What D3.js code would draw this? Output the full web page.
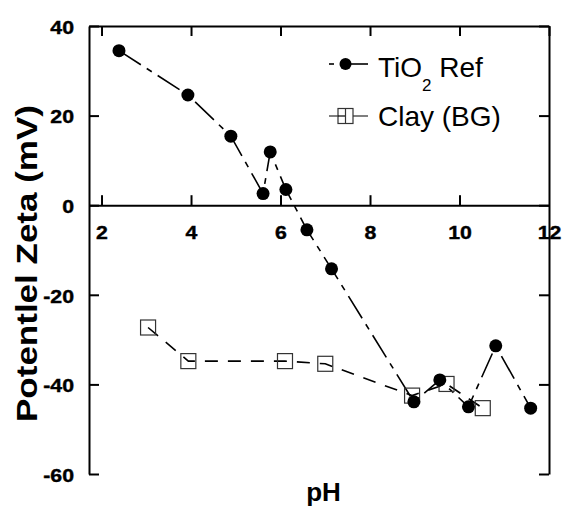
<!DOCTYPE html>
<html>
<head>
<meta charset="utf-8">
<script src="https://cdn.jsdelivr.net/npm/d3@7"></script>
<style>
  html, body { margin: 0; padding: 0; background: #fff; }
  svg { display: block; }
  text { font-family: "Liberation Sans", Arial, Helvetica, sans-serif; }
</style>
</head>
<body>
<svg id="chart" width="563" height="508"></svg>
<script>
// ---- data ----
const tio2PH   = [2.39, 3.93, 4.89, 5.61, 5.77, 6.12, 6.59, 7.14, 8.98, 9.56, 10.20, 10.81, 11.59];
const tio2Zeta = [34.5, 24.6, 15.4, 2.6, 11.9, 3.5, -5.5, -14.2, -43.9, -39.0, -45.0, -31.4, -45.3];
const clayPH   = [3.04, 3.94, 6.10, 7.00, 8.94, 9.71, 10.52];
const clayZeta = [-27.3, -34.8, -34.8, -35.4, -42.5, -39.9, -45.3];
const xTicks = [2, 4, 6, 8, 10, 12];
const yTicks = [-60, -40, -20, 0, 20, 40];
const seriesNames = ["TiO", "2", " Ref"];
const clayName = "Clay (BG)";
const xTitle = "pH";
const yTitle = "Potentlel Zeta (mV)";

// ---- layout ----
const L = 89, R = 549, T = 26, B = 474;
const FONT = "'Liberation Sans', Arial, sans-serif";
const svg = d3.select("#chart");
svg.append("rect").attr("width", 563).attr("height", 508).attr("fill", "#fff");

const x = d3.scaleLinear().domain([1.72, 12]).range([L, R]);
const y = d3.scaleLinear().domain([-60, 40]).range([B, T]);

const sx = 1.12;
const fmt = d => String(d);

function styleAxis(g) {
  g.attr("font-family", FONT);
  g.selectAll("path.domain").attr("stroke", "#000").attr("stroke-width", 2);
  g.selectAll(".tick line").attr("stroke", "#000").attr("stroke-width", 2);
}

// left axis
const gl = svg.append("g").attr("transform", `translate(${L},0)`)
  .call(d3.axisLeft(y).tickValues(yTicks).tickFormat(fmt).tickSizeInner(-10).tickSizeOuter(0).tickPadding(15));
styleAxis(gl);
gl.selectAll(".tick text")
  .attr("x", 0).attr("dy", "0.38em")
  .attr("transform", `translate(-15,0) scale(${sx},1)`)
  .attr("font-size", 19).attr("font-weight", "bold").attr("fill", "#000")
  .attr("stroke", "#000").attr("stroke-width", 0.4);

// right axis
const gr = svg.append("g").attr("transform", `translate(${R},0)`)
  .call(d3.axisRight(y).tickValues(yTicks).tickSizeInner(-10).tickSizeOuter(0).tickFormat(""));
styleAxis(gr);

// top axis
const gt = svg.append("g").attr("transform", `translate(0,${T})`)
  .call(d3.axisTop(x).tickValues(xTicks).tickSizeInner(-10).tickSizeOuter(0).tickFormat(""));
styleAxis(gt);

// zero axis (x axis at y=0)
const gz = svg.append("g").attr("transform", `translate(0,${y(0)})`)
  .call(d3.axisBottom(x).tickValues(xTicks).tickFormat(fmt).tickSizeInner(-10).tickSizeOuter(0));
styleAxis(gz);
gz.selectAll(".tick text")
  .attr("y", 0).attr("dy", null)
  .attr("transform", `translate(0,34) scale(${sx},1)`)
  .attr("font-size", 19).attr("font-weight", "bold").attr("fill", "#000")
  .attr("stroke", "#000").attr("stroke-width", 0.4);
gz.selectAll(".tick").filter(d => d === 12).select("line").remove();

// ---- series lines ----
const line = d3.line().x(d => x(d[0])).y(d => y(d[1]));
const tio2 = tio2PH.map((p, i) => [p, tio2Zeta[i]]);
const clay = clayPH.map((p, i) => [p, clayZeta[i]]);

svg.append("path").datum(clay).attr("d", line)
  .attr("fill", "none").attr("stroke", "#000").attr("stroke-width", 1.6)
  .attr("stroke-dasharray", "13,10");
svg.append("path").datum(tio2).attr("d", line)
  .attr("fill", "none").attr("stroke", "#000").attr("stroke-width", 1.6)
  .attr("stroke-dasharray", "26,7,6,7");

svg.append("g").selectAll("rect").data(clay).join("rect")
  .attr("x", d => x(d[0]) - 7.5).attr("y", d => y(d[1]) - 7.5)
  .attr("width", 15).attr("height", 15)
  .attr("fill", "none").attr("stroke", "#333").attr("stroke-width", 1.2);

svg.append("g").selectAll("circle").data(tio2).join("circle")
  .attr("cx", d => x(d[0])).attr("cy", d => y(d[1])).attr("r", 6.5)
  .attr("fill", "#000");

// ---- legend ----
const lg = svg.append("g").attr("font-family", FONT);
lg.append("line").attr("x1", 329).attr("x2", 334).attr("y1", 64).attr("y2", 64)
  .attr("stroke", "#000").attr("stroke-width", 1.6);
lg.append("line").attr("x1", 340).attr("x2", 368).attr("y1", 64).attr("y2", 64)
  .attr("stroke", "#000").attr("stroke-width", 1.6);
lg.append("circle").attr("cx", 345.5).attr("cy", 64).attr("r", 6).attr("fill", "#000");
const t1 = lg.append("text").attr("x", 378).attr("y", 77).attr("font-size", 28).attr("fill", "#000");
t1.append("tspan").text(seriesNames[0]);
t1.append("tspan").attr("font-size", 17).attr("dy", 14).text(seriesNames[1]);
t1.append("tspan").attr("dy", -14).text(seriesNames[2]);

lg.append("line").attr("x1", 329).attr("x2", 368).attr("y1", 116).attr("y2", 116)
  .attr("stroke", "#000").attr("stroke-width", 1.2);
lg.append("rect").attr("x", 338).attr("y", 108.5).attr("width", 15).attr("height", 15)
  .attr("fill", "#fff").attr("stroke", "#333").attr("stroke-width", 1.2);
lg.append("line").attr("x1", 338).attr("x2", 345.5).attr("y1", 116).attr("y2", 116)
  .attr("stroke", "#000").attr("stroke-width", 1.2);
lg.append("line").attr("x1", 345.5).attr("x2", 345.5).attr("y1", 108.5).attr("y2", 123.5)
  .attr("stroke", "#333").attr("stroke-width", 1.2);
lg.append("text").attr("x", 378).attr("y", 126).attr("font-size", 28).attr("fill", "#000").text(clayName);

// ---- axis titles ----
svg.append("text").attr("x", 323.5).attr("y", 501).attr("text-anchor", "middle")
  .attr("font-family", FONT)
  .attr("font-size", 26).attr("font-weight", "bold").attr("fill", "#000").text(xTitle);
svg.append("text").attr("transform", "translate(37,263.5) rotate(-90)")
  .attr("font-family", FONT)
  .attr("text-anchor", "middle").attr("font-size", 29).attr("font-weight", "bold")
  .attr("textLength", 317).attr("lengthAdjust", "spacingAndGlyphs")
  .attr("fill", "#000").text(yTitle);
</script>
</body>
</html>
